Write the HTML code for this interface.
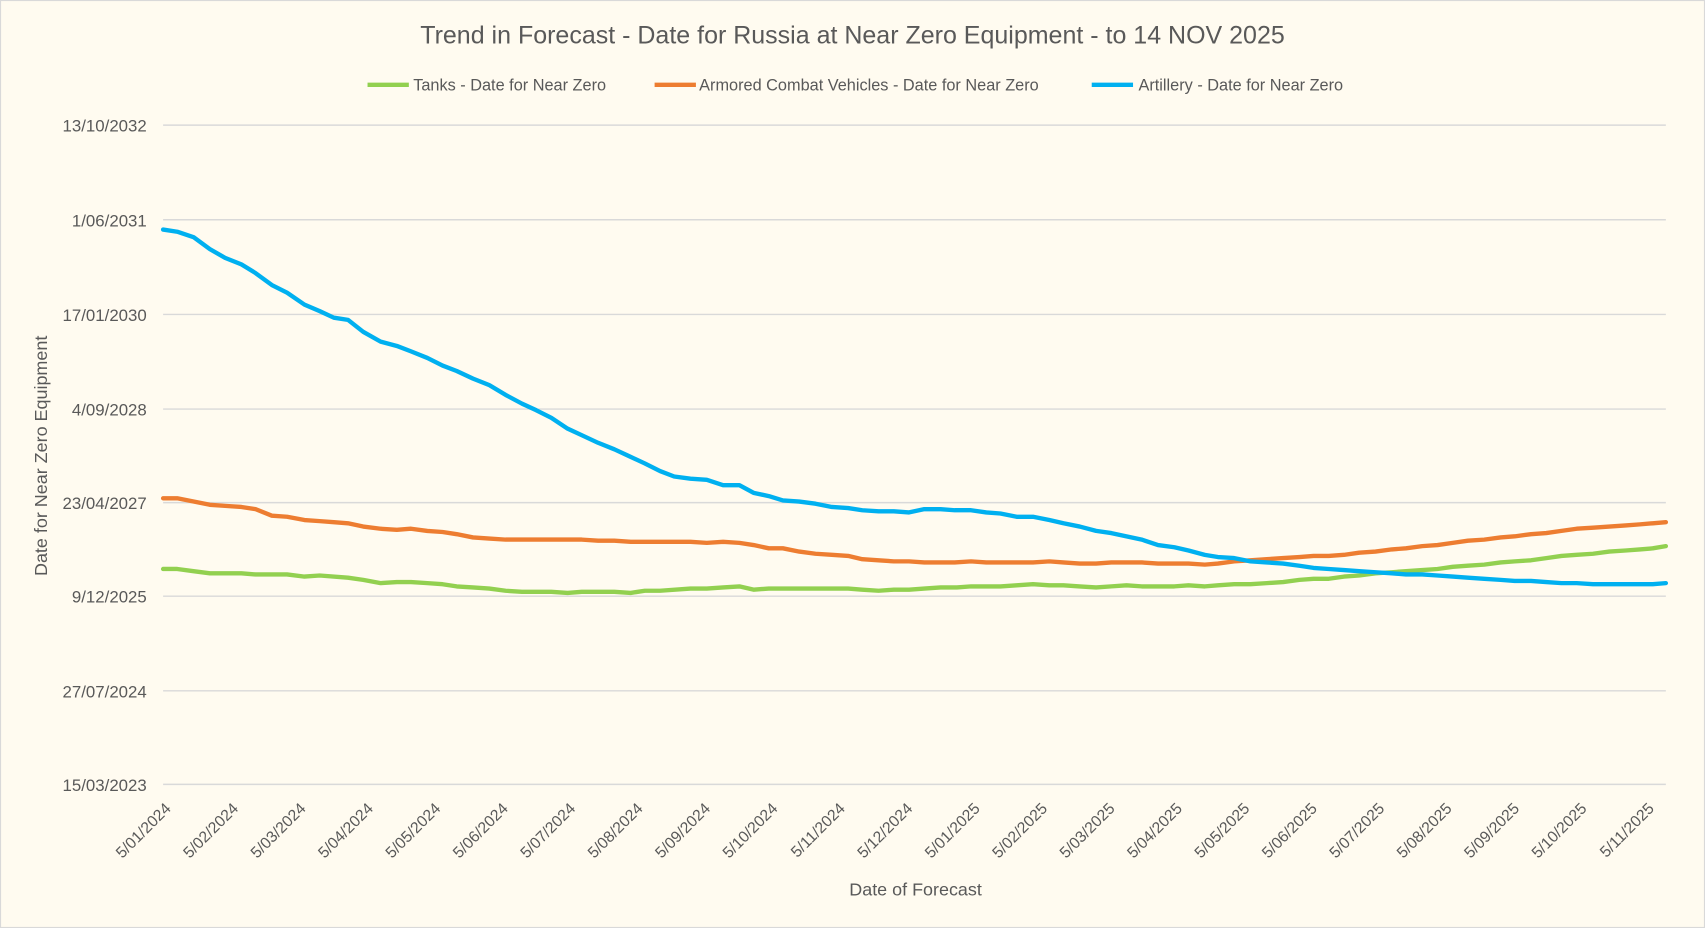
<!DOCTYPE html>
<html><head><meta charset="utf-8"><style>
html,body{margin:0;padding:0;background:#fffbf0}
svg{display:block}
text{font-family:"Liberation Sans",sans-serif;fill:#595959}
</style></head><body>
<svg width="1705" height="928" viewBox="0 0 1568 853" preserveAspectRatio="none" xmlns="http://www.w3.org/2000/svg">
<rect x="0.5" y="0.5" width="1567" height="852" fill="#fffbf0" stroke="#d9d9d9"/>
<text x="784" y="40" font-size="23" text-anchor="middle">Trend in Forecast - Date for Russia at Near Zero Equipment - to 14 NOV 2025</text>
<g font-size="15">
<line x1="338" y1="78" x2="376" y2="78" stroke="#92d050" stroke-width="4"/>
<text x="380" y="83">Tanks - Date for Near Zero</text>
<line x1="602" y1="78" x2="640" y2="78" stroke="#ed7d31" stroke-width="4"/>
<text x="643" y="83">Armored Combat Vehicles - Date for Near Zero</text>
<line x1="1004" y1="78" x2="1042" y2="78" stroke="#00b0f0" stroke-width="4"/>
<text x="1047" y="83">Artillery - Date for Near Zero</text>
</g>
<g stroke="#d9d9d9" stroke-width="1.3">
<line x1="150" x2="1532" y1="115" y2="115"/><line x1="150" x2="1532" y1="202" y2="202"/>
<line x1="150" x2="1532" y1="289" y2="289"/><line x1="150" x2="1532" y1="376" y2="376"/>
<line x1="150" x2="1532" y1="462" y2="462"/><line x1="150" x2="1532" y1="548" y2="548"/>
<line x1="150" x2="1532" y1="635" y2="635"/><line x1="150" x2="1532" y1="721" y2="721"/>
</g>
<g font-size="15.5" text-anchor="end">
<text x="135" y="121">13/10/2032</text><text x="135" y="208">1/06/2031</text>
<text x="135" y="295">17/01/2030</text><text x="135" y="382">4/09/2028</text>
<text x="135" y="468">23/04/2027</text><text x="135" y="554">9/12/2025</text>
<text x="135" y="641">27/07/2024</text><text x="135" y="727">15/03/2023</text>
</g>
<text transform="translate(43,419) rotate(-90)" font-size="16.5" text-anchor="middle">Date for Near Zero Equipment</text>
<text x="842" y="823" font-size="16.5" text-anchor="middle">Date of Forecast</text>
<g font-size="14.5" text-anchor="end">
<text transform="translate(158,744) rotate(-45)">5/01/2024</text>
<text transform="translate(220,744) rotate(-45)">5/02/2024</text>
<text transform="translate(282,744) rotate(-45)">5/03/2024</text>
<text transform="translate(344,744) rotate(-45)">5/04/2024</text>
<text transform="translate(406,744) rotate(-45)">5/05/2024</text>
<text transform="translate(468,744) rotate(-45)">5/06/2024</text>
<text transform="translate(530,744) rotate(-45)">5/07/2024</text>
<text transform="translate(592,744) rotate(-45)">5/08/2024</text>
<text transform="translate(654,744) rotate(-45)">5/09/2024</text>
<text transform="translate(716,744) rotate(-45)">5/10/2024</text>
<text transform="translate(778,744) rotate(-45)">5/11/2024</text>
<text transform="translate(840,744) rotate(-45)">5/12/2024</text>
<text transform="translate(902,744) rotate(-45)">5/01/2025</text>
<text transform="translate(964,744) rotate(-45)">5/02/2025</text>
<text transform="translate(1026,744) rotate(-45)">5/03/2025</text>
<text transform="translate(1088,744) rotate(-45)">5/04/2025</text>
<text transform="translate(1150,744) rotate(-45)">5/05/2025</text>
<text transform="translate(1212,744) rotate(-45)">5/06/2025</text>
<text transform="translate(1274,744) rotate(-45)">5/07/2025</text>
<text transform="translate(1336,744) rotate(-45)">5/08/2025</text>
<text transform="translate(1398,744) rotate(-45)">5/09/2025</text>
<text transform="translate(1460,744) rotate(-45)">5/10/2025</text>
<text transform="translate(1522,744) rotate(-45)">5/11/2025</text>
</g>
<g fill="none" stroke-width="4" stroke-linejoin="round" stroke-linecap="round">
<polyline stroke="#92d050" points="150,523 163,523 178,525 193,527 222,527 235,528 264,528 280,530 294,529 320,531 334,533 350,536 365,535 378,535 393,536 407,537 420,539 435,540 450,541 465,543 480,544 507,544 522,545 535,544 565,544 580,545 593,543 607,543 635,541 650,541 665,540 680,539 693,542 707,541 780,541 793,542 808,543 822,542 836,542 850,541 865,540 880,540 893,539 920,539 935,538 950,537 965,538 978,538 993,539 1008,540 1022,539 1036,538 1050,539 1080,539 1093,538 1108,539 1120,538 1135,537 1150,537 1165,536 1180,535 1195,533 1208,532 1222,532 1236,530 1250,529 1265,527 1280,526 1293,525 1308,524 1322,523 1336,521 1350,520 1365,519 1380,517 1393,516 1408,515 1422,513 1436,511 1450,510 1465,509 1480,507 1495,506 1508,505 1520,504 1532,502"/>
<polyline stroke="#ed7d31" points="150,458 163,458 178,461 193,464 207,465 222,466 235,468 250,474 264,475 280,478 294,479 307,480 320,481 334,484 350,486 365,487 378,486 393,488 407,489 420,491 435,494 450,495 465,496 480,496 535,496 550,497 565,497 580,498 635,498 650,499 665,498 680,499 693,501 707,504 720,504 735,507 750,509 765,510 780,511 793,514 808,515 822,516 836,516 850,517 865,517 878,517 893,516 907,517 950,517 965,516 978,517 993,518 1008,518 1022,517 1050,517 1065,518 1093,518 1108,519 1120,518 1135,516 1150,515 1165,514 1180,513 1195,512 1208,511 1222,511 1236,510 1250,508 1265,507 1280,505 1293,504 1308,502 1322,501 1336,499 1350,497 1365,496 1380,494 1393,493 1408,491 1422,490 1436,488 1450,486 1465,485 1480,484 1495,483 1508,482 1520,481 1532,480"/>
<polyline stroke="#00b0f0" points="150,211 163,213 178,218 193,229 207,237 222,243 235,251 250,262 264,269 280,280 294,286 307,292 320,294 334,305 350,314 365,318 378,323 393,329 407,336 420,341 435,348 450,354 465,363 480,371 493,377 507,384 522,394 535,400 550,407 565,413 578,419 593,426 607,433 620,438 635,440 650,441 665,446 680,446 693,453 707,456 720,460 735,461 750,463 765,466 780,467 793,469 808,470 822,470 836,471 850,468 865,468 878,469 893,469 907,471 920,472 935,475 950,475 965,478 978,481 993,484 1008,488 1022,490 1036,493 1050,496 1065,501 1080,503 1093,506 1108,510 1120,512 1135,513 1150,516 1165,517 1180,518 1195,520 1208,522 1222,523 1236,524 1250,525 1265,526 1280,527 1293,528 1308,528 1322,529 1336,530 1350,531 1365,532 1380,533 1393,534 1408,534 1422,535 1436,536 1450,536 1465,537 1480,537 1495,537 1508,537 1520,537 1532,536"/>
</g>
</svg>
</body></html>
